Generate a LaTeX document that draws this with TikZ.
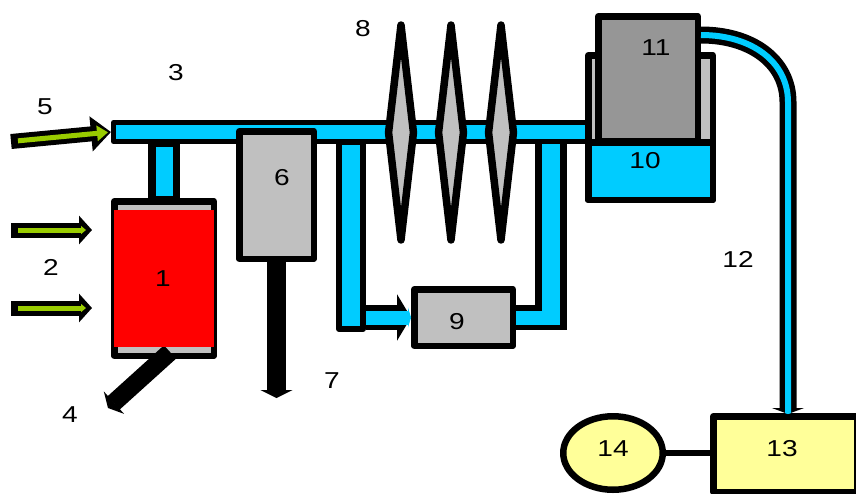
\documentclass[tikz,border=0pt]{standalone}
\usepackage{fontspec}
\setmainfont[FakeStretch=1.22]{Liberation Sans}
\usetikzlibrary{shapes.geometric, arrows.meta}
\definecolor{pipeblue}{HTML}{00CCFF}
\definecolor{lightgray}{HTML}{C0C0C0}
\definecolor{darkgray}{HTML}{969696}
\definecolor{palegreen}{HTML}{99CC00}
\definecolor{paleyellow}{HTML}{FFFF99}
\tikzset{box/.style={draw,line width=6.5pt,line join=round,inner sep=0pt},
         number/.style={font=\fontsize{23}{26}\selectfont,inner sep=0pt},
         blade/.style={diamond,draw,fill=lightgray,line width=7.5pt,line join=round,inner sep=0pt,minimum width=28pt,minimum height=218pt},
         airflow/.style={draw=palegreen,line width=5pt,shorten <=7pt,shorten >=6pt,-{Triangle[length=5pt,width=8pt]},
                         preaction={draw=black,line width=15pt,shorten <=0pt,shorten >=0pt,-{Triangle[length=13pt,width=28pt]}}},
         bigairflow/.style={draw=palegreen,line width=5pt,shorten <=7pt,shorten >=3pt,-{Triangle[length=11pt,width=15pt]},
                         preaction={draw=black,line width=15pt,shorten <=0pt,shorten >=0pt,-{Triangle[length=20pt,width=34pt]}}},
        }

\begin{document}
\begin{tikzpicture}[x=1pt,y=-1pt]
        \useasboundingbox (0,0) rectangle (856,493);
        \clip (0,0) rectangle (856,493);

        % pipes
        \node[box, line width=5pt, fill=pipeblue, minimum width=474pt, minimum height=19pt](mainpipe)at(350.5,132){};
        \node[box, line width=7.5pt, fill=pipeblue, minimum width=24.5pt, minimum height=56.5pt](risepipe)at(164,171){};
        \node[box, line width=6pt, fill=pipeblue, minimum width=24pt, minimum height=187pt](leftpipe)at(351,235.5){};

        \coordinate (rbot) at (551,330);
        \coordinate (rend) at (567,317.5);
        \coordinate (rinner) at (560,317.5);
        \node[box, fill=lightgray, minimum width=98.5pt, minimum height=56.5pt](box9)at(463.5,317.5){};
        \draw[line width=32pt](mainpipe.south -| rbot)--(rbot);
        \draw[line width=25pt](box9.east)--(rend);
        \draw[pipeblue, line width=18pt](mainpipe.south -| rbot)--(551,325);
        \draw[pipeblue, line width=14pt](box9.east)--(rinner);
        \draw[draw=pipeblue, line width=14pt, -{Triangle[length=3pt,width=20pt]},
              preaction={draw=black, line width=25pt, -{Triangle[length=14pt,width=46pt]}}]
              (leftpipe.east |- box9.west)--(box9.west);

        % combustor
        \coordinate (ash) at (108,408);
        \node[box, fill=lightgray, minimum width=99.5pt, minimum height=154.5pt](box1)at(164,278.5){};
        \draw[line width=18pt, -{Triangle[length=8pt,width=30pt]}](170,352)--(ash);
        \node[fill=red, inner sep=0pt, minimum width=100pt, minimum height=137pt](flame)at(164,278.5){};

        % shaft
        \coordinate (shaft) at (276.5,398);
        \node[box, fill=lightgray, minimum width=74.5pt, minimum height=127.5pt](box6)at(276.5,195){};
        \draw[line width=19pt, -{Triangle[length=8pt,width=32pt]}](box6.south)--(shaft);

        % blades
        \foreach \i/\x in {1/401,2/451,3/501}
            \node[blade](blade\i)at(\x,132.5){};

        % condenser
        \node[box, fill=lightgray, minimum width=124.5pt, minimum height=144.5pt](box10)at(650.5,127.5){};
        \node[box, fill=darkgray, minimum width=99.5pt, minimum height=124.5pt](box11)at(648,78.5){};
        \node[box, fill=pipeblue, minimum width=124.5pt, minimum height=57.5pt](water)at(650.5,171){};

        % outlet
        \node[box, fill=paleyellow, minimum width=143.5pt, minimum height=75.5pt](box13)at(785,454){};
        \node[box, ellipse, fill=paleyellow, minimum width=99.5pt, minimum height=73.5pt](ell14)at(613,453){};
        \draw[line width=6pt](ell14.east)--(ell14.east -| box13.west);

        \coordinate (pipestart) at (701,35);
        \coordinate (pipeend) at (788,414);
        \draw[draw=pipeblue, line width=6pt, -{Triangle[length=1pt,width=6pt]},
              preaction={draw=black, line width=17pt, -{Triangle[length=6pt,width=32pt]}}]
              (pipestart)..controls (752,35) and (788,62) ..(788,102)--(pipeend);

        % inlet arrows
        \coordinate (in1s) at (11,230);
        \coordinate (in1e) at (92,230);
        \coordinate (in2s) at (11,308);
        \coordinate (in2e) at (92,308);
        \coordinate (in3s) at (11,141.5);
        \draw[airflow](in1s)--(in1e);
        \draw[airflow](in2s)--(in2e);
        \draw[bigairflow](in3s)--(mainpipe.west);

        \foreach \n/\x/\y in {1/163/279,2/51/267,3/176/73,4/70/415,5/45/107,6/282/178,7/332/381,
                              8/363/29,9/457/322,10/645/161,11/656/48,12/738/259,13/782/449,14/613/449}
            \node[number](num\n)at(\x,\y){\n};
    \end{tikzpicture}
\end{document}
